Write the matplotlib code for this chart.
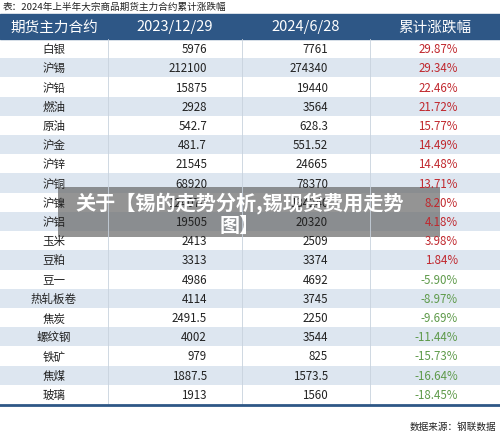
import matplotlib
matplotlib.use("Agg")
import matplotlib.pyplot as plt
from matplotlib.patches import Rectangle

plt.rcParams['font.family'] = ['Noto Sans CJK SC', 'DejaVu Sans']

title = "表：2024年上半年大宗商品期货主力合约累计涨跌幅"
headers = ["期货主力合约", "2023/12/29", "2024/6/28", "累计涨跌幅"]
names = ["白银", "沪锡", "沪铅", "燃油", "原油", "沪金", "沪锌", "沪铜", "沪镍", "沪铝",
         "玉米", "豆粕", "豆一", "热轧板卷", "焦炭", "螺纹钢", "铁矿", "焦煤", "玻璃"]
start = ["5976", "212100", "15875", "2928", "542.7", "481.7", "21545", "68920", "124070", "19505",
         "2413", "3313", "4986", "4114", "2491.5", "4002", "979", "1887.5", "1913"]
end = ["7761", "274340", "19440", "3564", "628.3", "551.52", "24665", "78370", "134240", "20320",
       "2509", "3374", "4692", "3745", "2250", "3544", "825", "1573.5", "1560"]
change = [29.87, 29.34, 22.46, 21.72, 15.77, 14.49, 14.48, 13.71, 8.20, 4.18,
          3.98, 1.84, -5.90, -8.97, -9.69, -11.44, -15.73, -16.64, -18.45]
source = "数据来源：钢联数据"
overlay = "关于【锡的走势分析,锡现货费用走势\n图】"

W, H = 500, 439
fig = plt.figure(figsize=(W / 100, H / 100), dpi=100)
ax = fig.add_axes([0, 0, 1, 1])
ax.set_xlim(0, W)
ax.set_ylim(H, 0)
ax.axis('off')

ax.text(3, 7, title, fontsize=6.9, va='center', ha='left', color='#222222')

top, hh = 15, 25
ax.add_patch(Rectangle((0, top), W, hh, color='#2e5786'))
col_x = [0, 108, 242, 370, 500]
for i, h in enumerate(headers):
    ax.text((col_x[i] + col_x[i + 1]) / 2, top + hh / 2, h, color='white',
            fontsize=10.5, ha='center', va='center')

rh = (405 - 40) / len(names)
for r, n in enumerate(names):
    y = 40 + r * rh
    if r % 2 == 1:
        ax.add_patch(Rectangle((0, y), W, rh, color='#dde6f0', lw=0))
    cy = y + rh / 2
    ax.text(54, cy, n, fontsize=8.3, ha='center', va='center', color='#222222')
    ax.text(207, cy, start[r], fontsize=8.3, ha='right', va='center', color='#222222')
    ax.text(328, cy, end[r], fontsize=8.3, ha='right', va='center', color='#222222')
    c = change[r]
    ax.text(458, cy, f"{c:.2f}%", fontsize=8.3, ha='right', va='center',
            color='#c0272d' if c > 0 else '#5e9a4a')
for x in col_x[1:4]:
    ax.plot([x, x], [40, 405], color='#c8d2dd', lw=0.6)
ax.plot([0, W], [406, 406], color='#2e5786', lw=2)
ax.text(496, 427, source, fontsize=6.9, ha='right', va='center', color='#222222')

ax.add_patch(Rectangle((58, 188), 382, 50, color='#6b6b6b', alpha=0.72, lw=0))
ax.text(240, 214, overlay, fontsize=14.5, fontweight='bold', color='white',
        ha='center', va='center', linespacing=1.1)

fig.savefig("out.png", dpi=100)
